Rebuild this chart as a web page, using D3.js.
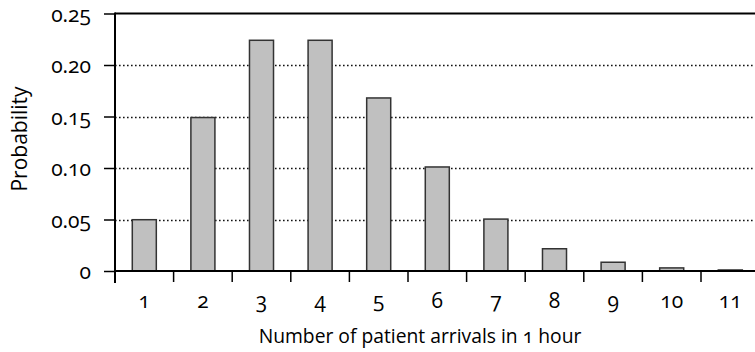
<!DOCTYPE html>
<html>
<head>
<meta charset="utf-8">
<script src="https://cdn.jsdelivr.net/npm/d3@7"></script>
<style>
  html, body { margin: 0; padding: 0; background: #fff; }
  svg { display: block; }
  text { font-family: "Open Sans", "Noto Sans", sans-serif; fill: #000; font-variant-numeric: oldstyle-nums; }
</style>
</head>
<body>
<svg id="chart" width="755" height="352"></svg>
<script>
const categories = ["1","2","3","4","5","6","7","8","9","10","11"];
const probabilities = [0.0498, 0.149, 0.224, 0.224, 0.168, 0.101, 0.0504, 0.0216, 0.0085, 0.0030, 0.0010];
const yTicks = [0, 0.05, 0.10, 0.15, 0.20, 0.25];
const yTickLabels = ["0", "0.05", "0.10", "0.15", "0.20", "0.25"];
const xTitle = "Number of patient arrivals in 1 hour";
const yTitle = "Probability";

(function () {
const svg = d3.select("#chart");
const pL = 115, pT = 13.5, pB = 271, bandW = 58.6;
const pR = pL + bandW * categories.length;

const x = d3.scaleBand().domain(categories).range([pL, pR]).paddingInner(0.59).paddingOuter(0.295);
const y = d3.scaleLinear().domain([0, 0.25]).range([pB, pT]);

// gridlines
svg.append("g").selectAll("line").data(yTicks.filter(v => v > 0 && v < 0.25)).join("line")
  .attr("x1", pL).attr("x2", 755)
  .attr("y1", d => Math.round(y(d)) + 0.5).attr("y2", d => Math.round(y(d)) + 0.5)
  .attr("stroke", "#111").attr("stroke-width", 1.6).attr("stroke-dasharray", "1.6,2.4");

// bars
svg.append("g").selectAll("rect").data(categories).join("rect")
  .attr("x", d => x(d))
  .attr("width", x.bandwidth())
  .attr("y", (d, i) => y(probabilities[i]))
  .attr("height", (d, i) => pB - y(probabilities[i]))
  .attr("fill", "#c0c0c0").attr("stroke", "#333").attr("stroke-width", 1.5);

// top border
svg.append("line").attr("x1", pL).attr("x2", 755).attr("y1", y(0.25)).attr("y2", y(0.25))
  .attr("stroke", "#000").attr("stroke-width", 2.2);

// y axis
const yAxis = d3.axisLeft(y).tickValues(yTicks).tickFormat((d, i) => yTickLabels[i]).tickSize(11).tickPadding(13);
const gy = svg.append("g").attr("transform", `translate(${pL},0)`).call(yAxis);
gy.select(".domain").remove();
gy.selectAll(".tick line").attr("stroke", "#000").attr("stroke-width", 1.5);
gy.selectAll(".tick text").attr("dy", "0.38em").style("font-size", "21px").attr("fill", "#000");
svg.append("line").attr("x1", pL).attr("x2", pL).attr("y1", pT - 1).attr("y2", pB + 12)
  .attr("stroke", "#000").attr("stroke-width", 2);

// x axis
const xTickPos = d3.range(categories.length + 1).map(i => pL + i * bandW);
svg.append("line").attr("x1", pL).attr("x2", 755).attr("y1", pB).attr("y2", pB)
  .attr("stroke", "#000").attr("stroke-width", 2);
svg.append("g").selectAll("line").data(xTickPos).join("line")
  .attr("x1", d => d).attr("x2", d => d).attr("y1", pB).attr("y2", pB + 11)
  .attr("stroke", "#000").attr("stroke-width", 1.5);
const xAxis = d3.axisBottom(x).tickSize(0).tickPadding(0);
const gx = svg.append("g").attr("transform", `translate(0,${pB})`).call(xAxis);
gx.select(".domain").remove();
gx.selectAll(".tick text").attr("dy", null).attr("y", 36.5).style("font-size", "21px").attr("fill", "#000");

// titles
svg.append("text").attr("x", 420).attr("y", 343).attr("text-anchor", "middle")
  .style("font-size", "19.3px").text(xTitle);
svg.append("text").attr("transform", "translate(27,139) rotate(-90)").attr("text-anchor", "middle")
  .style("font-size", "21px").text(yTitle);
})();
</script>
</body>
</html>
